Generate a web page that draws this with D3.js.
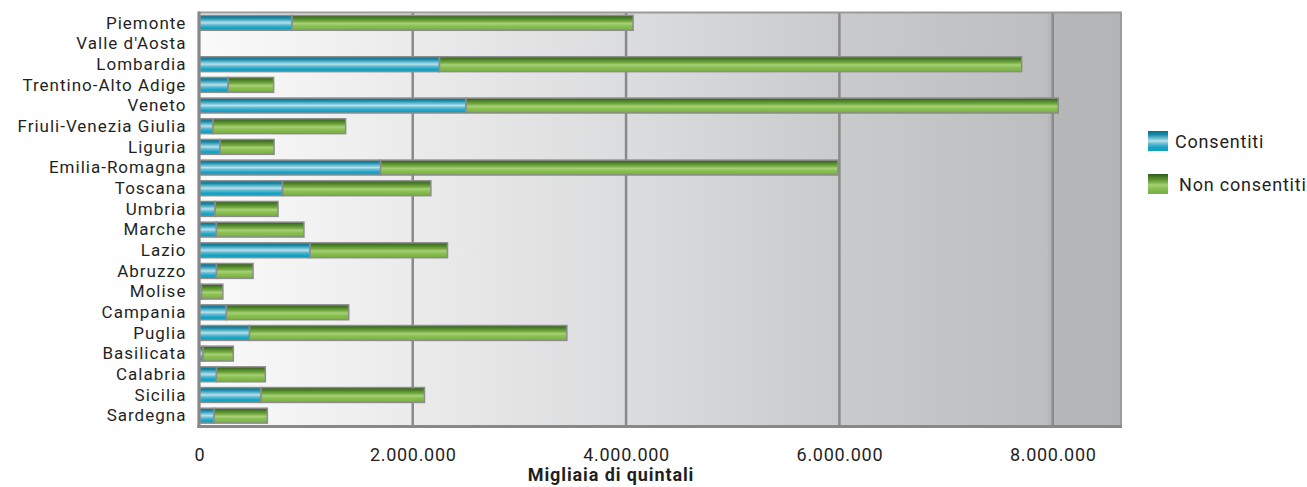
<!DOCTYPE html>
<html>
<head>
<meta charset="utf-8">
<script src="https://cdn.jsdelivr.net/npm/d3@7"></script>
<style>
  html, body { margin: 0; padding: 0; background: #ffffff; }
  svg { display: block; }
  text { font-family: Roboto, "Open Sans", sans-serif; fill: #1f1f1f; }
</style>
</head>
<body>
<svg id="chart" width="1307" height="487"></svg>
<script>
// Regional production (migliaia di quintali)
const regions = ["Piemonte", "Valle d'Aosta", "Lombardia", "Trentino-Alto Adige", "Veneto",
  "Friuli-Venezia Giulia", "Liguria", "Emilia-Romagna", "Toscana", "Umbria", "Marche", "Lazio",
  "Abruzzo", "Molise", "Campania", "Puglia", "Basilicata", "Calabria", "Sicilia", "Sardegna"];
const consentiti = [868000, 0, 2251000, 269000, 2500000, 128000, 194000, 1699000, 780000, 147000,
  159000, 1037000, 160000, 20000, 253000, 470000, 35000, 160000, 578000, 138000];
const nonConsentiti = [3198000, 0, 5458000, 427000, 5552000, 1243000, 506000, 4287000, 1390000, 590000,
  821000, 1289000, 343000, 200000, 1147000, 2975000, 283000, 458000, 1532000, 499000];
const seriesNames = ["Consentiti", "Non consentiti"];
const xTicks = [0, 2000000, 4000000, 6000000, 8000000];
const xTitle = "Migliaia di quintali";

const svg = d3.select("#chart");
const plotL = 199.4, plotR = 1121, plotT = 12.5, plotB = 426;

const x = d3.scaleLinear().domain([0, 8640000]).range([plotL, plotR]);
const y = d3.scaleBand().domain(regions).range([plotT, plotB]).paddingInner(0.28).paddingOuter(0.14);

const it = d3.formatLocale({ decimal: ",", thousands: ".", grouping: [3], currency: ["", "€"] });
const fmt = it.format(",d");

const defs = svg.append("defs");
const bg = defs.append("linearGradient").attr("id", "bg").attr("x1", 0).attr("x2", 1).attr("y1", 0).attr("y2", 0);
[[0, "#fafafa"], [0.23, "#ebebec"], [0.5, "#d9dadb"], [0.7, "#c9cacc"], [0.92, "#bdbec0"], [0.921, "#b6b7b9"], [1, "#b3b4b6"]]
  .forEach(([o, c]) => bg.append("stop").attr("offset", o).attr("stop-color", c));

const blueG = defs.append("linearGradient").attr("id", "blue").attr("x1", 0).attr("x2", 0).attr("y1", 0).attr("y2", 1);
[[0, "#0b6f88"], [0.18, "#1989a6"], [0.38, "#74c1d5"], [0.5, "#b9e1eb"], [0.64, "#62bbd2"], [0.82, "#17a4c4"], [1, "#12a0c1"]]
  .forEach(([o, c]) => blueG.append("stop").attr("offset", o).attr("stop-color", c));

const greenG = defs.append("linearGradient").attr("id", "green").attr("x1", 0).attr("x2", 0).attr("y1", 0).attr("y2", 1);
[[0, "#355a1c"], [0.2, "#4d8529"], [0.4, "#77ab43"], [0.55, "#a7d177"], [0.7, "#8cc154"], [1, "#76ae41"]]
  .forEach(([o, c]) => greenG.append("stop").attr("offset", o).attr("stop-color", c));

// plot background
svg.append("rect").attr("x", plotL).attr("y", plotT).attr("width", plotR - plotL).attr("height", plotB - plotT)
  .attr("fill", "url(#bg)");

// vertical gridlines
svg.append("g").selectAll("line").data(xTicks.slice(1)).join("line")
  .attr("x1", d => x(d)).attr("x2", d => x(d)).attr("y1", plotT).attr("y2", plotB)
  .attr("stroke", "#8a8a8a").attr("stroke-width", 2.5);

// stacked bars
const stackData = regions.map((r, i) => ({ region: r, c: consentiti[i], n: nonConsentiti[i] }));
const stack = d3.stack().keys(["c", "n"])(stackData);
const fills = ["url(#blue)", "url(#green)"];
svg.append("g").selectAll("g").data(stack).join("g")
  .attr("fill", (d, i) => fills[i])
  .selectAll("rect").data(d => d.filter(s => s[1] > s[0])).join("rect")
  .attr("x", d => x(d[0])).attr("width", d => x(d[1]) - x(d[0]))
  .attr("y", d => y(d.data.region)).attr("height", y.bandwidth())
  .attr("stroke", "#8c8c8c").attr("stroke-width", 1.5);

// plot frame
svg.append("rect").attr("x", plotL).attr("y", plotT).attr("width", plotR - plotL).attr("height", plotB - plotT)
  .attr("fill", "none").attr("stroke", "#9a9a9a").attr("stroke-width", 2);
svg.append("line").attr("x1", plotL - 0.5).attr("x2", plotL - 0.5).attr("y1", plotT - 1).attr("y2", plotB + 1.5)
  .attr("stroke", "#888888").attr("stroke-width", 3);
svg.append("line").attr("x1", plotL - 2).attr("x2", plotR + 1).attr("y1", plotB + 0.5).attr("y2", plotB + 0.5)
  .attr("stroke", "#888888").attr("stroke-width", 3);

// y axis labels
const yAxis = d3.axisLeft(y).tickSize(0).tickPadding(13);
const yg = svg.append("g").attr("transform", `translate(${plotL},0)`).call(yAxis);
yg.select(".domain").remove();
yg.selectAll("text").attr("dy", "0.34em")
  .style("font-size", "17px").style("letter-spacing", "1px")
  .style("font-family", "Roboto, sans-serif").attr("fill", "#1f1f1f");

// x axis labels
const xAxis = d3.axisBottom(x).tickValues(xTicks).tickFormat(fmt).tickSize(0);
const xg = svg.append("g").attr("transform", `translate(0,${plotB})`).call(xAxis);
xg.select(".domain").remove();
xg.selectAll("text").attr("y", 35).attr("dy", 0)
  .style("font-size", "18px").style("letter-spacing", "0.7px")
  .style("font-family", "Roboto, sans-serif").attr("fill", "#1f1f1f");

svg.append("text").attr("x", 611).attr("y", 481).attr("text-anchor", "middle")
  .style("font-size", "18px").style("font-weight", "bold").style("letter-spacing", "0.9px").text(xTitle);

// legend
const legend = svg.append("g");
const legY = [131, 174];
const legTx = [1175, 1179];
seriesNames.forEach((name, i) => {
  legend.append("rect").attr("x", 1148).attr("y", legY[i]).attr("width", 20).attr("height", 20).attr("fill", fills[i]);
  legend.append("text").attr("x", legTx[i]).attr("y", legY[i] + 17)
    .style("font-size", "18px").style("letter-spacing", "0.8px").text(name);
});
</script>
</body>
</html>
